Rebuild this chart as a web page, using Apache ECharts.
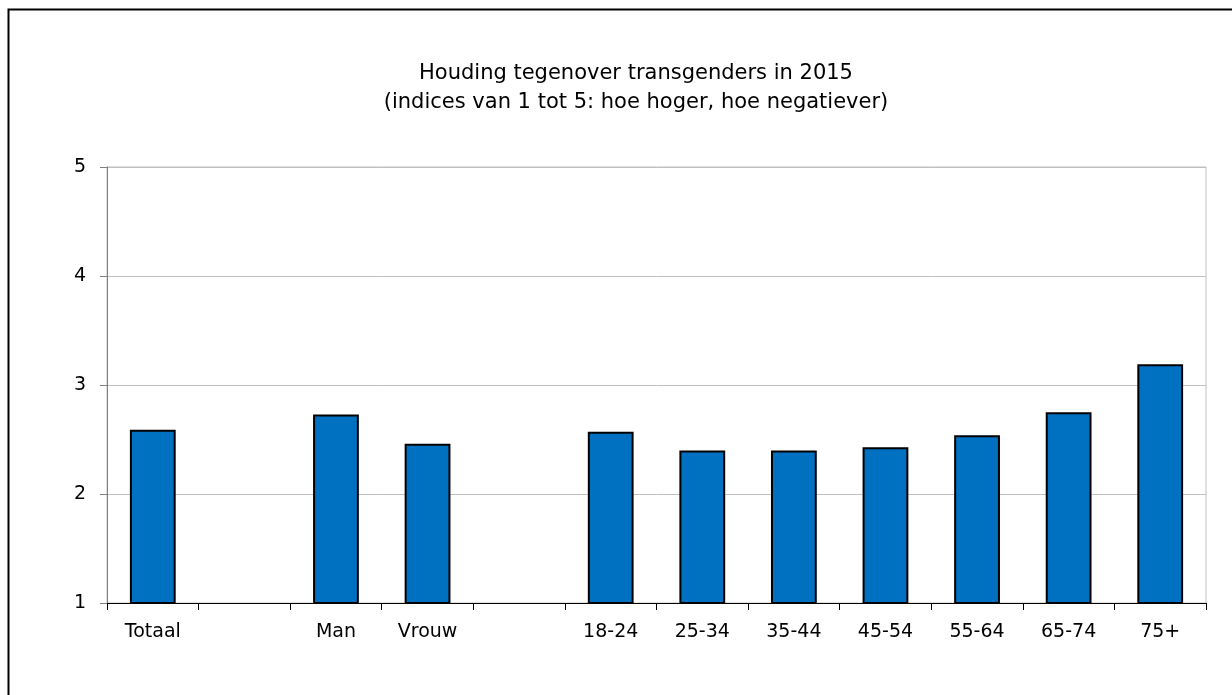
<!DOCTYPE html>
<html>
<head>
<meta charset="utf-8">
<script src="https://cdn.jsdelivr.net/npm/echarts@6/dist/echarts.min.js"></script>
<style>
html,body{margin:0;padding:0;background:#fff;}
#chart{width:1232px;height:695px;}
</style>
</head>
<body>
<div id="chart"></div>
<script>
const titleLines = ['Houding tegenover transgenders in 2015', '(indices van 1 tot 5: hoe hoger, hoe negatiever)'];
const categories = ['Totaal', '', 'Man', 'Vrouw', ' ', '18-24', '25-34', '35-44', '45-54', '55-64', '65-74', '75+'];
const values = [2.59, null, 2.73, 2.46, null, 2.57, 2.40, 2.40, 2.43, 2.54, 2.75, 3.19];
const yMin = 1, yMax = 5, yStep = 1;

const FONT = 'DejaVu Sans';
const chart = echarts.init(document.getElementById('chart'), null, {renderer: 'canvas'});
chart.setOption({
  animation: false,
  backgroundColor: '#ffffff',
  title: {
    text: titleLines.join('\n'),
    left: 631, top: 54, textAlign: 'center',
    textStyle: {fontFamily: FONT, fontSize: 21, fontWeight: 'normal', color: '#000', lineHeight: 29}
  },
  graphic: [{
    type: 'rect', left: 6, top: 7, z: 100, silent: true,
    shape: {width: 1240, height: 700},
    style: {fill: 'none', stroke: '#000', lineWidth: 2}
  }],
  grid: {
    left: 107, right: 26, top: 167, bottom: 92,
    show: true, borderColor: '#c0c0c0', borderWidth: 1, containLabel: false
  },
  xAxis: {
    type: 'category', data: categories,
    axisLine: {lineStyle: {color: '#000', width: 1}},
    axisTick: {show: true, alignWithLabel: false, length: 7, lineStyle: {color: '#000'}},
    axisLabel: {fontFamily: FONT, fontSize: 19, color: '#000', margin: 20, interval: 0},
    splitLine: {show: false}
  },
  yAxis: {
    type: 'value', min: yMin, max: yMax, interval: yStep,
    axisLine: {show: true, lineStyle: {color: '#808080', width: 1}},
    axisTick: {show: true, length: 7, lineStyle: {color: '#808080'}},
    axisLabel: {fontFamily: FONT, fontSize: 19, color: '#000', margin: 21},
    splitLine: {lineStyle: {color: '#c0c0c0', width: 1}}
  },
  series: [{
    type: 'bar', data: values,
    barWidth: '50%',
    itemStyle: {color: '#0070C0', borderColor: '#000', borderWidth: 2}
  }]
});
</script>
</body>
</html>
